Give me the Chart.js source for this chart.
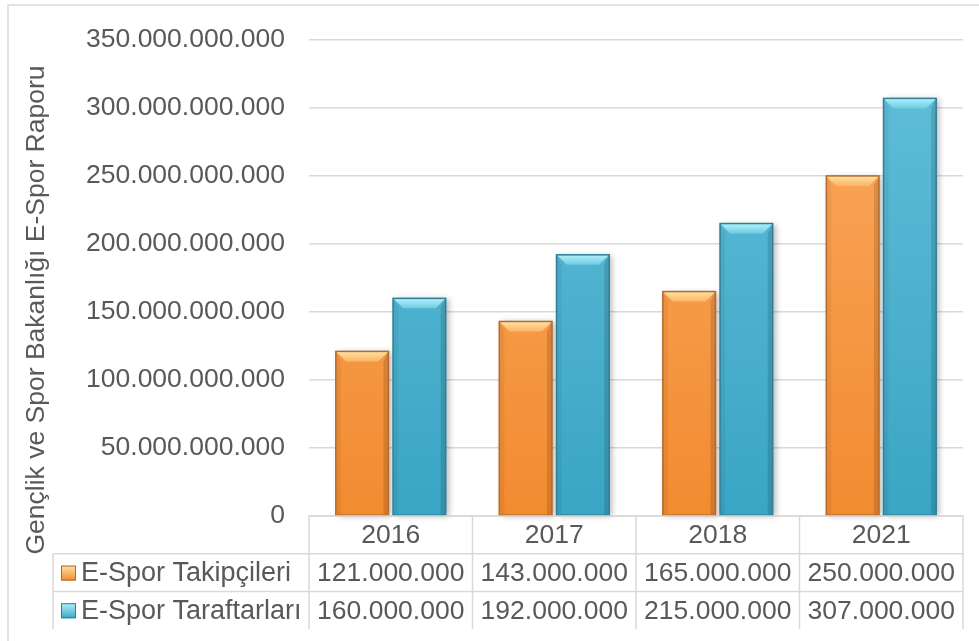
<!DOCTYPE html>
<html>
<head>
<meta charset="utf-8">
<script src="https://cdn.jsdelivr.net/npm/chart.js@4/dist/chart.umd.min.js"></script>
<style>
  body { margin: 0; background: #fff; }
  #wrap { width: 979px; height: 641px; position: relative; }
</style>
</head>
<body>
<div id="wrap"><canvas id="bar-chart"></canvas></div>
<script>
// values as printed in the data table
const years = ["2016", "2017", "2018", "2021"];
const takipciler = [121000000, 143000000, 165000000, 250000000];
const taraftarlar = [160000000, 192000000, 215000000, 307000000];
const seriesNames = ["E-Spor Takipçileri", "E-Spor Taraftarları"];
const axisTitle = "Gençlik ve Spor Bakanlığı E-Spor Raporu";
// the value axis of the original reads 1000x the table numbers
const axisFactor = 1000;
const yMax = 350000000;
const yStep = 50000000;

const textColor = "#595959";
const lineColor = "#d9d9d9";
const fontFam = "'Liberation Sans', Arial, sans-serif";

const palette = [
  { top: "#fbab63", bottom: "#f28b30", border: "#b36a2b", bevelA: "#ffe3a3", bevelB: "#fbb466" },
  { top: "#63bfd8", bottom: "#3aa5c5", border: "#2f7e95", bevelA: "#b0f2fb", bevelB: "#6fcbe1" }
];

function fmt(n) {
  return String(Math.round(n)).replace(/\B(?=(\d{3})+(?!\d))/g, ".");
}

function barFill(i) {
  return function (ctx) {
    const area = ctx.chart.chartArea;
    if (!area) return palette[i].bottom;
    const g = ctx.chart.ctx.createLinearGradient(0, area.top, 0, area.bottom);
    g.addColorStop(0, palette[i].top);
    g.addColorStop(1, palette[i].bottom);
    return g;
  };
}

// soft shadow behind each bar
const shadowPlugin = {
  id: "shadow",
  beforeDatasetsDraw(chart) {
    const ctx = chart.ctx;
    ctx.save();
    chart.data.datasets.forEach((ds, i) => {
      chart.getDatasetMeta(i).data.forEach(bar => {
        const l = bar.x - bar.width / 2;
        ctx.shadowColor = "rgba(0,0,0,0.28)";
        ctx.shadowBlur = 6;
        ctx.shadowOffsetX = 3;
        ctx.shadowOffsetY = 1;
        ctx.fillStyle = "#ffffff";
        ctx.fillRect(l, bar.y, bar.width, bar.base - bar.y);
      });
    });
    ctx.restore();
  }
};

// bevel look on top of the bars
const bevelPlugin = {
  id: "bevel",
  afterDatasetsDraw(chart) {
    const ctx = chart.ctx;
    const b = 10;
    const s = 5;
    chart.data.datasets.forEach((ds, i) => {
      const p = palette[i];
      chart.getDatasetMeta(i).data.forEach(bar => {
        const l = bar.x - bar.width / 2;
        const r = bar.x + bar.width / 2;
        const t = bar.y;
        const bot = bar.base;
        ctx.save();
        const g = ctx.createLinearGradient(0, t, 0, t + b);
        g.addColorStop(0, p.bevelA);
        g.addColorStop(1, p.bevelB);
        ctx.fillStyle = g;
        ctx.beginPath();
        ctx.moveTo(l, t);
        ctx.lineTo(r, t);
        ctx.lineTo(r - b, t + b);
        ctx.lineTo(l + b, t + b);
        ctx.closePath();
        ctx.fill();
        ctx.fillStyle = "rgba(0,0,0,0.05)";
        ctx.beginPath();
        ctx.moveTo(l, t);
        ctx.lineTo(l + s, t + b);
        ctx.lineTo(l + s, bot);
        ctx.lineTo(l, bot);
        ctx.closePath();
        ctx.fill();
        ctx.fillStyle = "rgba(0,0,0,0.13)";
        ctx.beginPath();
        ctx.moveTo(r, t);
        ctx.lineTo(r - s, t + b);
        ctx.lineTo(r - s, bot);
        ctx.lineTo(r, bot);
        ctx.closePath();
        ctx.fill();
        ctx.strokeStyle = p.border;
        ctx.lineWidth = 1.5;
        ctx.strokeRect(l, t, r - l, bot - t);
        ctx.restore();
      });
    });
  }
};

function legendKey(ctx, x, y, p) {
  const g = ctx.createLinearGradient(0, y, 0, y + 15);
  g.addColorStop(0, p.bevelA);
  g.addColorStop(1, p.bottom);
  ctx.fillStyle = g;
  ctx.fillRect(x, y, 15, 15);
  ctx.strokeStyle = p.border;
  ctx.lineWidth = 1;
  ctx.strokeRect(x + 0.5, y + 0.5, 14, 14);
}

// data table under the plot, axis title and outer frame
const tablePlugin = {
  id: "dataTable",
  afterDraw(chart) {
    const ctx = chart.ctx;
    const area = chart.chartArea;
    const xs = chart.scales.x;
    const n = years.length;
    const colW = xs.width / n;
    const rowH = 37.7;
    const y0 = area.bottom;
    const legendLeft = 53;
    const rows = [takipciler, taraftarlar];

    ctx.save();
    ctx.strokeStyle = lineColor;
    ctx.lineWidth = 1.5;
    // outer frame
    ctx.beginPath();
    ctx.moveTo(8, chart.height);
    ctx.lineTo(8, 5);
    ctx.lineTo(chart.width, 5);
    ctx.stroke();

    ctx.beginPath();
    ctx.moveTo(xs.left, y0);
    ctx.lineTo(xs.right, y0);
    for (let r = 1; r <= rows.length; r++) {
      ctx.moveTo(legendLeft, y0 + r * rowH);
      ctx.lineTo(xs.right, y0 + r * rowH);
    }
    for (let c = 0; c <= n; c++) {
      ctx.moveTo(xs.left + c * colW, y0);
      ctx.lineTo(xs.left + c * colW, y0 + (rows.length + 1) * rowH);
    }
    ctx.moveTo(legendLeft, y0 + rowH);
    ctx.lineTo(legendLeft, y0 + (rows.length + 1) * rowH);
    ctx.stroke();

    ctx.fillStyle = textColor;
    ctx.font = "26.5px " + fontFam;
    ctx.textBaseline = "middle";
    ctx.textAlign = "center";

    years.forEach((yr, c) => {
      ctx.fillText(yr, xs.left + (c + 0.5) * colW, y0 + rowH / 2 + 1);
    });
    rows.forEach((vals, r) => {
      const cy = y0 + (r + 1.5) * rowH + 1;
      vals.forEach((v, c) => {
        ctx.fillText(fmt(v), xs.left + (c + 0.5) * colW, cy);
      });
      legendKey(ctx, 61, cy - 8, palette[r]);
      ctx.fillStyle = textColor;
      ctx.textAlign = "left";
      ctx.font = "27px " + fontFam;
      ctx.fillText(seriesNames[r], 81, cy);
      ctx.font = "26.5px " + fontFam;
      ctx.textAlign = "center";
    });

    // y axis title
    ctx.translate(37, 310);
    ctx.rotate(-Math.PI / 2);
    ctx.fillText(axisTitle, 0, 0);
    ctx.restore();
  }
};

new Chart(document.getElementById("bar-chart"), {
  type: "bar",
  data: {
    labels: years,
    datasets: [
      {
        label: seriesNames[0],
        data: takipciler,
        backgroundColor: barFill(0),
        borderWidth: 0
      },
      {
        label: seriesNames[1],
        data: taraftarlar,
        backgroundColor: barFill(1),
        borderWidth: 0
      }
    ]
  },
  options: {
    responsive: true,
    maintainAspectRatio: false,
    animation: false,
    layout: {
      padding: { left: 83, top: 35, right: 16, bottom: 125 }
    },
    plugins: {
      legend: { display: false },
      tooltip: { enabled: false }
    },
    datasets: {
      bar: { categoryPercentage: 0.7, barPercentage: 0.92 }
    },
    scales: {
      x: {
        display: false
      },
      y: {
        min: 0,
        max: yMax,
        border: { display: false },
        grid: { color: lineColor, lineWidth: 1.5, drawTicks: false },
        afterFit: scale => {
          scale.width = 226;
        },
        ticks: {
          stepSize: yStep,
          padding: 24,
          color: textColor,
          font: { size: 26.5, family: fontFam },
          callback: v => fmt(v * axisFactor)
        }
      }
    }
  },
  plugins: [shadowPlugin, bevelPlugin, tablePlugin]
});
</script>
</body>
</html>
